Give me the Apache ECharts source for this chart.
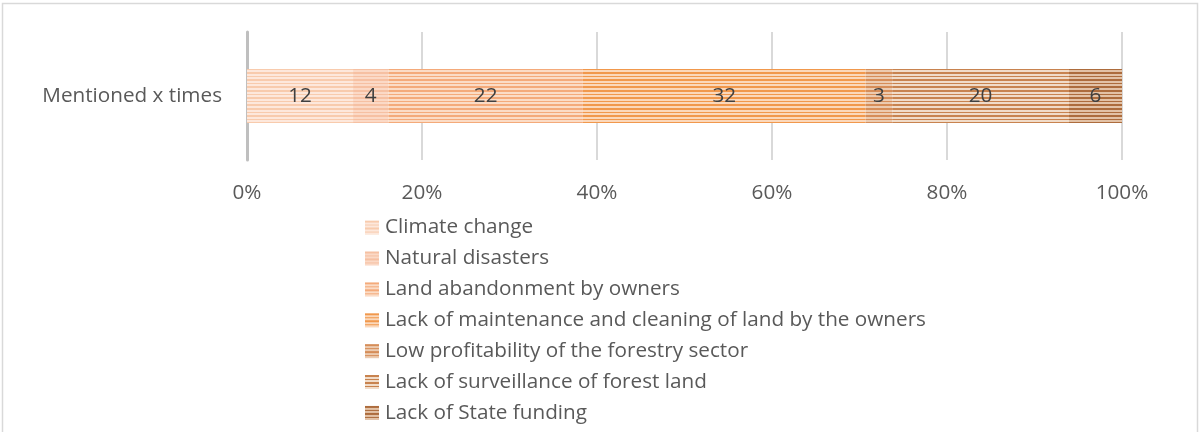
<!DOCTYPE html>
<html>
<head>
<meta charset="utf-8">
<script src="https://cdn.jsdelivr.net/npm/echarts@6/dist/echarts.min.js"></script>
<style>
  html, body { margin: 0; padding: 0; background: #ffffff; }
  #chart { width: 1201px; height: 432px; }
</style>
</head>
<body>
<div id="chart"></div>
<script>
// Reasons mentioned, counted per response
const categories = ['Mentioned x times'];
const seriesNames = [
  'Climate change',
  'Natural disasters',
  'Land abandonment by owners',
  'Lack of maintenance and cleaning of land by the owners',
  'Low profitability of the forestry sector',
  'Lack of surveillance of forest land',
  'Lack of State funding'
];
const counts = [12, 4, 22, 32, 3, 20, 6];
const tickLabels = ['0%', '20%', '40%', '60%', '80%', '100%'];

// Light base colour and darker stripe colour for each segment
const baseColors   = ['#fde8dc', '#fbd9c6', '#fbdcc6', '#fbd8bb', '#eccbb0', '#f1dcc9', '#e3c2a6'];
const stripeColors = ['#f8cbad', '#f6c0a2', '#f4aa7a', '#f1984c', '#d68d58', '#c8834f', '#ad6c3d'];

const FONT = '"Open Sans"';
const TEXT = '#595959';
const FS = 20.7;

// Horizontal striped fill built on a small canvas and tiled
function stripePattern(base, stripe) {
  const c = document.createElement('canvas');
  c.width = 8; c.height = 18;
  const g = c.getContext('2d');
  g.fillStyle = base;
  g.fillRect(0, 0, 8, 18);
  g.fillStyle = stripe;
  [0, 1, 4, 7, 8, 11, 14, 15].forEach(function (r) { g.fillRect(0, r, 8, 1); });
  return { image: c, repeat: 'repeat' };
}

const total = counts.reduce(function (a, b) { return a + b; }, 0);

const series = seriesNames.map(function (name, i) {
  const fill = stripePattern(baseColors[i], stripeColors[i]);
  return {
    name: name,
    type: 'bar',
    stack: 'all',
    barWidth: 54,
    data: [counts[i] / total * 100],
    itemStyle: { color: fill },
    label: {
      show: true,
      position: 'inside',
      color: '#404040',
      fontFamily: FONT,
      fontSize: FS,
      formatter: function () { return String(counts[i]); }
    },
    emphasis: { disabled: true }
  };
});

const chart = echarts.init(document.getElementById('chart'), null, { renderer: 'canvas' });
chart.setOption({
  animation: false,
  backgroundColor: '#ffffff',
  grid: { left: 247, right: 79, top: 32, height: 128, containLabel: false },
  xAxis: {
    type: 'value',
    min: 0,
    max: 100,
    interval: 20,
    axisLine: { show: false },
    axisTick: { show: false },
    splitLine: { show: true, lineStyle: { color: '#d9d9d9', width: 2 } },
    axisLabel: {
      margin: 23,
      color: TEXT,
      fontFamily: FONT,
      fontSize: FS,
      formatter: function (v) { return tickLabels[Math.round(v / 20)]; }
    }
  },
  yAxis: {
    type: 'category',
    data: categories,
    axisLine: { show: true, lineStyle: { color: '#bfbfbf', width: 3 } },
    axisTick: { show: false },
    axisLabel: { margin: 25, color: TEXT, fontFamily: FONT, fontSize: FS }
  },
  legend: {
    orient: 'vertical',
    left: 360,
    top: 212,
    height: 220,
    itemWidth: 14,
    itemHeight: 14,
    itemGap: 9.9,
    icon: 'rect',
    selectedMode: false,
    textStyle: { color: TEXT, fontFamily: FONT, fontSize: FS, lineHeight: 19, padding: [0, 0, 0, 1] },
    data: seriesNames
  },
  graphic: [{
    type: 'rect',
    shape: { x: 2.5, y: 3.5, width: 1195, height: 440 },
    style: { fill: 'none', stroke: '#d9d9d9', lineWidth: 1.5 },
    silent: true
  }],
  series: series
});
</script>
</body>
</html>
